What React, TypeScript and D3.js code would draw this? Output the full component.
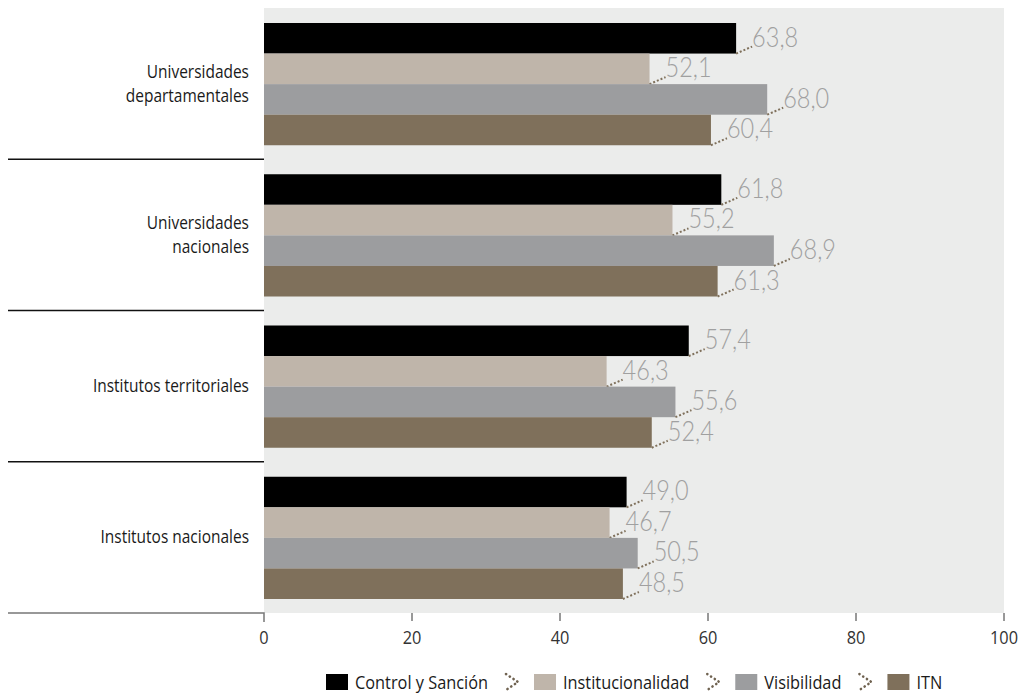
import React, { useEffect, useRef } from "react";
import * as d3 from "d3";

const categories = [
  ["Universidades", "departamentales"],
  ["Universidades", "nacionales"],
  ["Institutos territoriales"],
  ["Institutos nacionales"],
];
const seriesNames = ["Control y Sanción", "Institucionalidad", "Visibilidad", "ITN"];
const seriesColors = ["#000000", "#bfb5aa", "#9c9d9f", "#7f705b"];
const controlValues = [63.8, 61.8, 57.4, 49.0];
const instValues = [52.1, 55.2, 46.3, 46.7];
const visValues = [68.0, 68.9, 55.6, 50.5];
const itnValues = [60.4, 61.3, 52.4, 48.5];
const xTicks = [0, 20, 40, 60, 80, 100];

const W = 1027;
const H = 698;
const M = { left: 264, right: 1004, top: 8, bottom: 613 };
const fmt = (v: number) => v.toFixed(1).replace(".", ",");

export default function App() {
  const ref = useRef<SVGSVGElement>(null);
  useEffect(() => {
    document.body.style.margin = "0";
    const svg = d3.select(ref.current!);
    svg.selectAll("*").remove();
    const series = [controlValues, instValues, visValues, itnValues];
    const x = d3.scaleLinear().domain([0, 100]).range([M.left, M.right]);
    const y0 = d3
      .scaleBand<number>()
      .domain(d3.range(categories.length))
      .range([M.top, M.bottom]);
    const y1 = d3
      .scaleBand<number>()
      .domain(d3.range(series.length))
      .range([15, y0.bandwidth() - 14]);

    svg
      .append("rect")
      .attr("x", M.left)
      .attr("y", M.top)
      .attr("width", M.right - M.left)
      .attr("height", M.bottom - M.top)
      .attr("fill", "#ebeceb");

    const labelFont = "Lato, 'Open Sans', sans-serif";
    const sx = 0.86;

    categories.forEach((cat, i) => {
      const g = svg.append("g").attr("transform", `translate(0,${y0(i)})`);
      series.forEach((vals, s) => {
        const v = vals[i];
        const yy = y1(s)!;
        const h = y1.bandwidth();
        g.append("rect")
          .attr("x", x(0))
          .attr("y", yy)
          .attr("width", x(v) - x(0))
          .attr("height", h)
          .attr("fill", seriesColors[s]);
        const ex = x(v);
        const by = yy + h;
        g.append("line")
          .attr("x1", ex)
          .attr("y1", by)
          .attr("x2", ex + 16)
          .attr("y2", by - 7)
          .attr("stroke", "#7f705b")
          .attr("stroke-width", 2)
          .attr("stroke-dasharray", "2,2");
        g.append("text")
          .attr("transform", `translate(${ex + 16},${by - 7}) scale(0.84,1)`)
          .attr("font-family", labelFont)
          .attr("font-weight", 300)
          .attr("font-size", 28)
          .attr("fill", "#a0a0a0")
          .text(fmt(v));
      });
      // category label
      const cy = y0.bandwidth() / 2;
      const lh = 24;
      cat.forEach((line, li) => {
        const ty = cy + (li - (cat.length - 1) / 2) * lh + 6;
        g.append("text")
          .attr("transform", `translate(249,${ty}) scale(${sx},1)`)
          .attr("text-anchor", "end")
          .attr("font-family", "'Open Sans', sans-serif")
          .attr("font-size", 18)
          .attr("fill", "#1a1a1a")
          .text(line);
      });
      if (i < categories.length - 1) {
        svg
          .append("line")
          .attr("x1", 8)
          .attr("x2", M.left)
          .attr("y1", y0(i)! + y0.bandwidth())
          .attr("y2", y0(i)! + y0.bandwidth())
          .attr("stroke", "#111")
          .attr("stroke-width", 1.5);
      }
    });

    // axis
    svg
      .append("path")
      .attr("d", `M8,${M.bottom}H${M.left}V${M.bottom + 9}`)
      .attr("fill", "none")
      .attr("stroke", "#777")
      .attr("stroke-width", 1.5);
    xTicks.forEach((t) => {
      if (t !== 0) {
        svg
          .append("line")
          .attr("x1", x(t))
          .attr("x2", x(t))
          .attr("y1", M.bottom)
          .attr("y2", M.bottom + 8)
          .attr("stroke", "#333")
          .attr("stroke-width", 1);
      }
      svg
        .append("text")
        .attr("transform", `translate(${x(t)},${M.bottom + 31}) scale(${sx},1)`)
        .attr("text-anchor", "middle")
        .attr("font-family", "'Open Sans', sans-serif")
        .attr("font-size", 19)
        .attr("fill", "#333")
        .text(String(t));
    });

    // legend
    const lg = svg.append("g");
    let cx = 326;
    const ly = 674;
    seriesNames.forEach((name, s) => {
      if (s > 0) {
        const ax = cx;
        lg.append("path")
          .attr("d", `M${ax},${ly}L${ax + 12},${ly + 8}L${ax},${ly + 16}`)
          .attr("fill", "none")
          .attr("stroke", "#6f6250")
          .attr("stroke-width", 2.6)
          .attr("stroke-linecap", "round")
          .attr("stroke-dasharray", "0.1,4.4");
        cx += 28;
      }
      lg.append("rect")
        .attr("x", cx)
        .attr("y", ly)
        .attr("width", 22)
        .attr("height", 16)
        .attr("fill", seriesColors[s]);
      cx += 29;
      const t = lg
        .append("text")
        .attr("transform", `translate(${cx},${ly + 15}) scale(${sx},1)`)
        .attr("font-family", "'Open Sans', sans-serif")
        .attr("font-size", 19)
        .attr("fill", "#1a1a1a")
        .text(name);
      const w = (t.node() as SVGTextElement).getComputedTextLength() * sx;
      cx += w + 18;
    });
  }, []);
  return <svg ref={ref} width={W} height={H} style={{ display: "block" }} />;
}
